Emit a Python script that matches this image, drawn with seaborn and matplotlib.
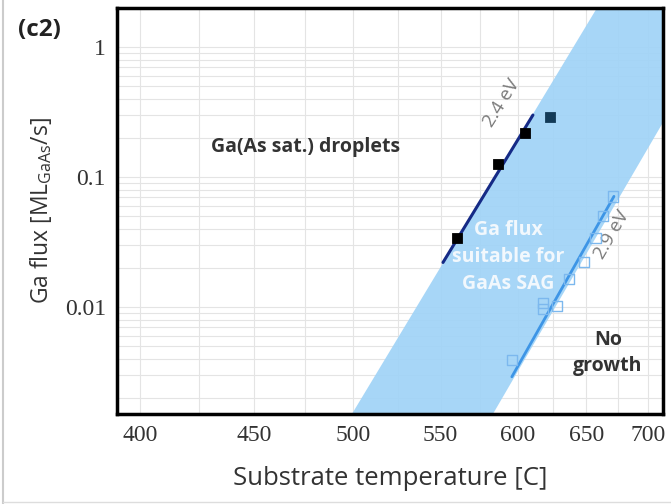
import numpy as np
import pandas as pd
import seaborn as sns
import matplotlib
matplotlib.use("Agg")
import matplotlib.pyplot as plt
from matplotlib.lines import Line2D
from matplotlib.ticker import FixedLocator, NullFormatter

droplet_T = [560, 587, 605]
droplet_F = [0.034, 0.125, 0.22]
extra_T = [623]
extra_F = [0.29]
growth_T = [596, 618, 618, 628, 637, 648, 657, 663, 671]
growth_F = [0.0039, 0.0107, 0.0097, 0.0102, 0.0164, 0.0222, 0.034, 0.050, 0.071]

# Arrhenius fit lines (end points)
fit24_T = [551.5, 610.6]
fit24_F = [0.022, 0.30]
fit29_T = [596, 671.6]
fit29_F = [0.0029, 0.071]

# window of Ga flux suitable for SAG (polygon corners)
band_T = [499.2, 658.1, 775, 583.3]
band_F = [0.0015, 2.0, 2.0, 0.0015]

xticks = [400, 450, 500, 550, 600, 650, 700]
xminor = [425, 475, 525, 575, 625, 675]
yticks = [0.01, 0.1, 1]
ylabels = ["0.01", "0.1", "1"]

sns.set_style("white")
plt.rcParams["font.family"] = ["Open Sans", "DejaVu Sans"]


def fwd(t):
    t = np.asarray(t, dtype=float)
    with np.errstate(divide="ignore", invalid="ignore"):
        return -1000.0 / (t + 273.15)


def inv(u):
    u = np.asarray(u, dtype=float)
    with np.errstate(divide="ignore", invalid="ignore"):
        return -1000.0 / u - 273.15


fig = plt.figure(figsize=(6.71, 5.04), dpi=100)
ax = fig.add_axes([117 / 671, 90 / 504, 546 / 671, 406 / 504])
ax.set_xscale("function", functions=(fwd, inv))
ax.set_yscale("log")

ax.fill(band_T, band_F, color="#a0d3f7", lw=0, zorder=1, alpha=0.92)

sns.lineplot(x=fit24_T, y=fit24_F, color="#152a86", lw=2.2, ax=ax, zorder=3)
sns.lineplot(x=fit29_T, y=fit29_F, color="#3d95e6", lw=2.0, ax=ax, zorder=3)

sns.scatterplot(x=droplet_T, y=droplet_F, marker="s", s=55, color="black",
                edgecolor="black", ax=ax, zorder=4)
sns.scatterplot(x=extra_T, y=extra_F, marker="s", s=55, color="#123a57",
                edgecolor="#123a57", ax=ax, zorder=4)
sns.scatterplot(x=growth_T, y=growth_F, marker="s", s=55, facecolor="none",
                edgecolor="#7cb8ee", linewidth=1.0, ax=ax, zorder=4)

ax.set_xlim(390.6, 712.8)
ax.set_ylim(0.0015, 2.0)

ax.xaxis.set_major_locator(FixedLocator(xticks))
ax.xaxis.set_minor_locator(FixedLocator(xminor))
ax.xaxis.set_minor_formatter(NullFormatter())
ax.set_xticklabels([str(t) for t in xticks])
ax.set_yticks(yticks)
ax.set_yticklabels(ylabels)
ax.yaxis.set_minor_formatter(NullFormatter())

ax.grid(True, which="both", color="#e4e4e4", lw=0.8, zorder=0)
ax.set_axisbelow(True)
ax.tick_params(which="both", length=0)
for lab in ax.get_xticklabels() + ax.get_yticklabels():
    lab.set_fontfamily("Liberation Serif")
    lab.set_fontsize(17)
    lab.set_color("#333333")
ax.tick_params(axis="x", pad=8)
ax.tick_params(axis="y", pad=8)

for sp in ax.spines.values():
    sp.set_color("black")
    sp.set_linewidth(2.5)

ax.set_xlabel("Substrate temperature [C]", fontsize=18.5, color="#333333", labelpad=14)
ax.set_ylabel(r"Ga flux [ML$_{\mathregular{GaAs}}$/s]", fontsize=16.5,
              color="#333333", labelpad=8)

ax.text(0.346, 0.658, "Ga(As sat.) droplets", transform=ax.transAxes,
        ha="center", va="center", fontsize=14, fontweight="bold", color="#333333")
ax.text(0.716, 0.387, "Ga flux\nsuitable for\nGaAs SAG", transform=ax.transAxes,
        ha="center", va="center", fontsize=14, fontweight="bold", color="#f2f8fd",
        linespacing=1.45, zorder=5)
ax.text(0.899, 0.150, "No\ngrowth", transform=ax.transAxes, ha="center",
        va="center", fontsize=14, fontweight="bold", color="#333333", linespacing=1.35)
ax.text(0.705, 0.766, "2.4 eV", transform=ax.transAxes, ha="center", va="center",
        fontsize=13.5, color="#7a7a7a", rotation=58)
ax.text(0.907, 0.441, "2.9 eV", transform=ax.transAxes, ha="center", va="center",
        fontsize=13.5, color="#7a7a7a", rotation=60)

fig.text(39 / 671, 1 - 30 / 504, "(c2)", ha="center", va="center", fontsize=17.5,
         fontweight="bold", color="#222222")

# thin panel frame of the original figure
fig.add_artist(Line2D([3 / 671, 3 / 671], [0, 1], color="#cccccc", lw=1.5))
fig.add_artist(Line2D([3 / 671, 1], [2 / 504, 2 / 504], color="#dddddd", lw=1.0))

fig.savefig("out.png", dpi=100)
